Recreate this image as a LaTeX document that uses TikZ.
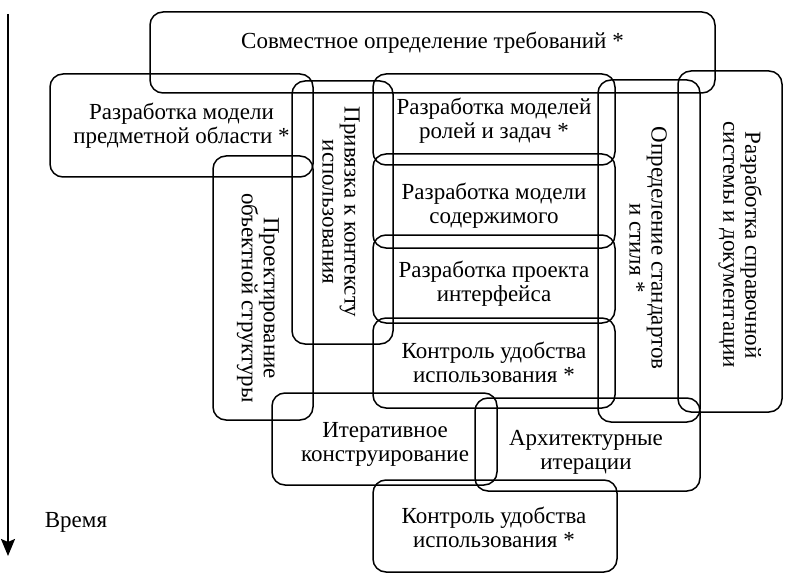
\documentclass[tikz,border=0pt]{standalone}
\usepackage{fontspec}
\setmainfont{Liberation Serif}
\usetikzlibrary{arrows.meta}

\tikzset{
  blk/.style={draw, line width=1.5pt, rounded corners=13pt, inner sep=0pt},
  txt/.style={align=center, inner sep=0pt, font=\fontsize{23}{24}\selectfont},
  vtxt/.style={align=center, inner sep=0pt, rotate=-90, font=\fontsize{23}{22}\selectfont}
}

\begin{document}
\begin{tikzpicture}[x=1pt,y=-1pt]

\useasboundingbox (0,0) rectangle (785,575);

% time axis
\coordinate (T1) at (8,14);
\coordinate (T2) at (8,556);
\draw[line width=2pt, -{Stealth[length=17pt,width=14pt,inset=3pt]}] (T1) -- (T2);
\node[txt] (Time) at (76,522) {Время};

% boxes
\node[blk, minimum width=565pt, minimum height=81pt] (Req) at (432.5,52.5) {};
\node[blk, minimum width=263pt, minimum height=103pt] (Dom) at (181.5,125.5) {};
\node[blk, minimum width=101pt, minimum height=263pt] (Ctx) at (342.5,212.5) {};
\node[blk, minimum width=100pt, minimum height=264pt] (Obj) at (263,288) {};
\node[blk, minimum width=242pt, minimum height=91pt] (Rol) at (494,119.5) {};
\node[blk, minimum width=242pt, minimum height=94pt] (Cnt) at (494,201) {};
\node[blk, minimum width=242pt, minimum height=88pt] (Ifc) at (494,279) {};
\node[blk, minimum width=242pt, minimum height=90pt] (UsA) at (494,363) {};
\node[blk, minimum width=102pt, minimum height=342pt] (Std) at (649,251) {};
\node[blk, minimum width=104pt, minimum height=341pt] (Hlp) at (730,241.5) {};
\node[blk, minimum width=225pt, minimum height=92pt] (Itr) at (384.5,439) {};
\node[blk, minimum width=225pt, minimum height=93pt] (Arc) at (587.5,444.5) {};
\node[blk, minimum width=244pt, minimum height=92pt] (UsB) at (495,526) {};

% texts
\node[txt] (ReqT) at ([yshift=9.5pt]Req) {Совместное определение требований *};
\node[txt] (DomT) at (Dom) {Разработка модели\\предметной области *};
\node[vtxt] (CtxT) at (341,212) {Привязка к контексту\\использования};
\node[vtxt] (ObjT) at (258,298) {Проектирование\\объектной структуры};
\node[txt] (RolT) at (494,121) {Разработка моделей\\ролей и задач *};
\node[txt] (CntT) at (494,206) {Разработка модели\\содержимого};
\node[txt] (IfcT) at (494,284) {Разработка проекта\\интерфейса};
\node[txt] (UsAT) at (494,362) {Контроль удобства\\использования *};
\node[vtxt] (StdT) at (648,248) {Определение стандартов\\и стиля *};
\node[vtxt] (HlpT) at (740,245) {Разработка справочной\\системы и документации};
\node[txt] (ItrT) at (385,444) {Итеративное\\конструирование};
\node[txt] (ArcT) at (586,452) {Архитектурные\\итерации};
\node[txt] (UsBT) at (494,527) {Контроль удобства\\использования *};

\end{tikzpicture}
\end{document}
